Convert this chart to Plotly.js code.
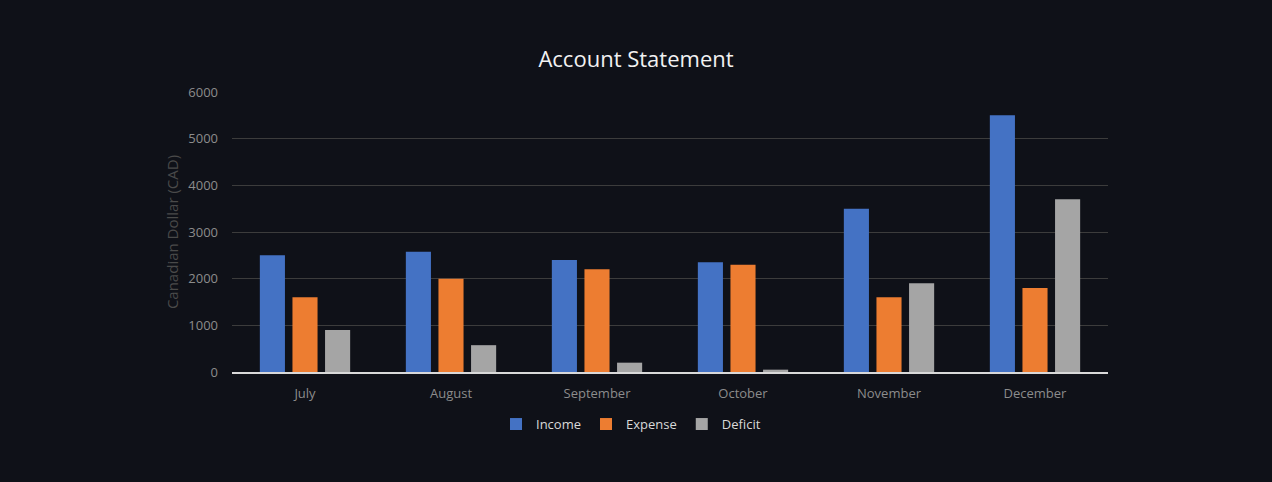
<!DOCTYPE html>
<html>
<head>
<meta charset="utf-8">
<script src="https://cdn.plot.ly/plotly-3.0.1.min.js"></script>
<style>html,body{margin:0;padding:0;background:#0f1118;}#chart{width:1272px;height:482px;}</style>
</head>
<body>
<div id="chart"></div>
<script>
const months = ["July", "August", "September", "October", "November", "December"];
const income = [2500, 2575, 2400, 2350, 3500, 5500];
const expense = [1600, 2000, 2200, 2300, 1600, 1800];
const deficit = [900, 575, 200, 50, 1900, 3700];

const traces = [
  {type: "bar", name: "Income", x: months, y: income, marker: {color: "#4472c4"}},
  {type: "bar", name: "Expense", x: months, y: expense, marker: {color: "#ed7d31"}},
  {type: "bar", name: "Deficit", x: months, y: deficit, marker: {color: "#a5a5a5"}}
];

const layout = {
  width: 1272, height: 482,
  paper_bgcolor: "#0f1118", plot_bgcolor: "#0f1118",
  font: {family: "Open Sans, sans-serif", color: "#8c8c8c", size: 13},
  margin: {l: 232, r: 164, t: 92, b: 110},
  title: {text: "Account Statement", x: 0.5, xanchor: "center", y: 1 - 59/482, yanchor: "middle",
          font: {size: 22, color: "#f2f2f2", family: "Open Sans, sans-serif"}},
  barmode: "group", bargap: 0.33, bargroupgap: 0.23,
  showlegend: true,
  legend: {orientation: "h", x: 0.4555, xanchor: "center", y: -0.186, yanchor: "middle",
           font: {size: 13, color: "#d9d9d9"}, itemwidth: 30, traceorder: "normal"},
  xaxis: {showgrid: false, showline: true, linecolor: "#d9d9d9", linewidth: 1.5,
          ticks: "", tickfont: {size: 13, color: "#8c8c8c"}, ticklabelstandoff: 9},
  yaxis: {range: [0, 6000], dtick: 1000, showgrid: true, gridcolor: "#3c3c3c", gridwidth: 1,
          zeroline: false, showline: false, tickfont: {size: 13, color: "#8c8c8c"},
          ticklabelstandoff: 13,
          title: {text: "Canadian Dollar (CAD)", font: {size: 15, color: "#4a4a4a"}, standoff: 6}}
};

Plotly.newPlot("chart", traces, layout, {displayModeBar: false, staticPlot: true});
</script>
</body>
</html>
